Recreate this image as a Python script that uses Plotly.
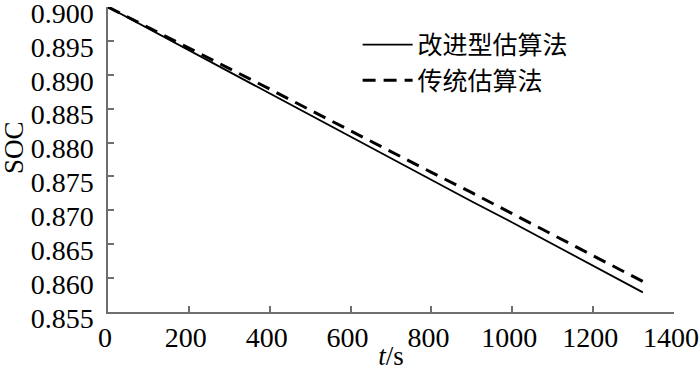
import plotly.graph_objects as go

time_s = [0, 100, 200, 300, 400, 500, 600, 700, 800, 900, 1000, 1100, 1200, 1323]
soc_improved = [0.9000, 0.8968, 0.8936, 0.8904, 0.8873, 0.8841, 0.8809, 0.8777, 0.8745, 0.8713, 0.8682, 0.8650, 0.8618, 0.8579]
soc_traditional = [0.9000, 0.8970, 0.8940, 0.8909, 0.8879, 0.8848, 0.8817, 0.8787, 0.8756, 0.8726, 0.8695, 0.8664, 0.8633, 0.8595]

x_ticks = [0, 200, 400, 600, 800, 1000, 1200, 1400]
y_ticks = [0.855, 0.860, 0.865, 0.870, 0.875, 0.880, 0.885, 0.890, 0.895, 0.900]
y_tick_labels = [f"{v:.3f}" for v in y_ticks]

names = ["改进型估算法", "传统估算法"]
x_title = "<i>t</i>/s"
y_title = "SOC"

SERIF = "Times New Roman"

fig = go.Figure()
fig.add_trace(go.Scatter(x=time_s, y=soc_improved, mode="lines", name=names[0], legendgroup="a",
                         line=dict(color="black", width=1.8)))
fig.add_trace(go.Scatter(x=time_s, y=soc_traditional, mode="lines", name=names[1], legendgroup="b",
                         line=dict(color="black", width=3, dash="13px,8px")))

axis_common = dict(showgrid=False, zeroline=False, showline=True, linecolor="#6e6e6e",
                   linewidth=1.5, ticks="inside", tickcolor="#6e6e6e", tickwidth=1.5,
                   ticklen=6, mirror=False, automargin=False, ticklabeloverflow="allow",
                   tickfont=dict(family=SERIF, size=28, color="black"))

fig.update_xaxes(range=[0, 1400], tickvals=x_ticks, ticktext=[str(v) for v in x_ticks],
                 ticklabelshift=-3,
                 title=dict(text=x_title, standoff=0,
                            font=dict(family=SERIF, size=27, color="black")),
                 **axis_common)
fig.update_yaxes(range=[0.855, 0.900], tickvals=y_ticks, ticktext=y_tick_labels,
                 ticklabelstandoff=7, ticklabelshift=6, **axis_common)

fig.add_annotation(x=-0.166, y=0.538, xref="paper", yref="paper", showarrow=False,
                   text=y_title, textangle=-90, xanchor="center", yanchor="middle",
                   font=dict(family=SERIF, size=27, color="black"))

fig.update_layout(
    template="none",
    width=700, height=371,
    margin=dict(l=108, r=26, t=7, b=59),
    paper_bgcolor="white", plot_bgcolor="white",
    showlegend=True,
    legend=dict(x=0.441, y=0.951, xanchor="left", yanchor="top", bgcolor="rgba(0,0,0,0)",
                font=dict(family="Noto Sans CJK SC", size=25, color="black"),
                itemwidth=50, tracegroupgap=0),
)

fig.write_html("out.html", config={"displayModeBar": False},
               post_script="document.body.style.margin='0';document.body.style.padding='0';")
